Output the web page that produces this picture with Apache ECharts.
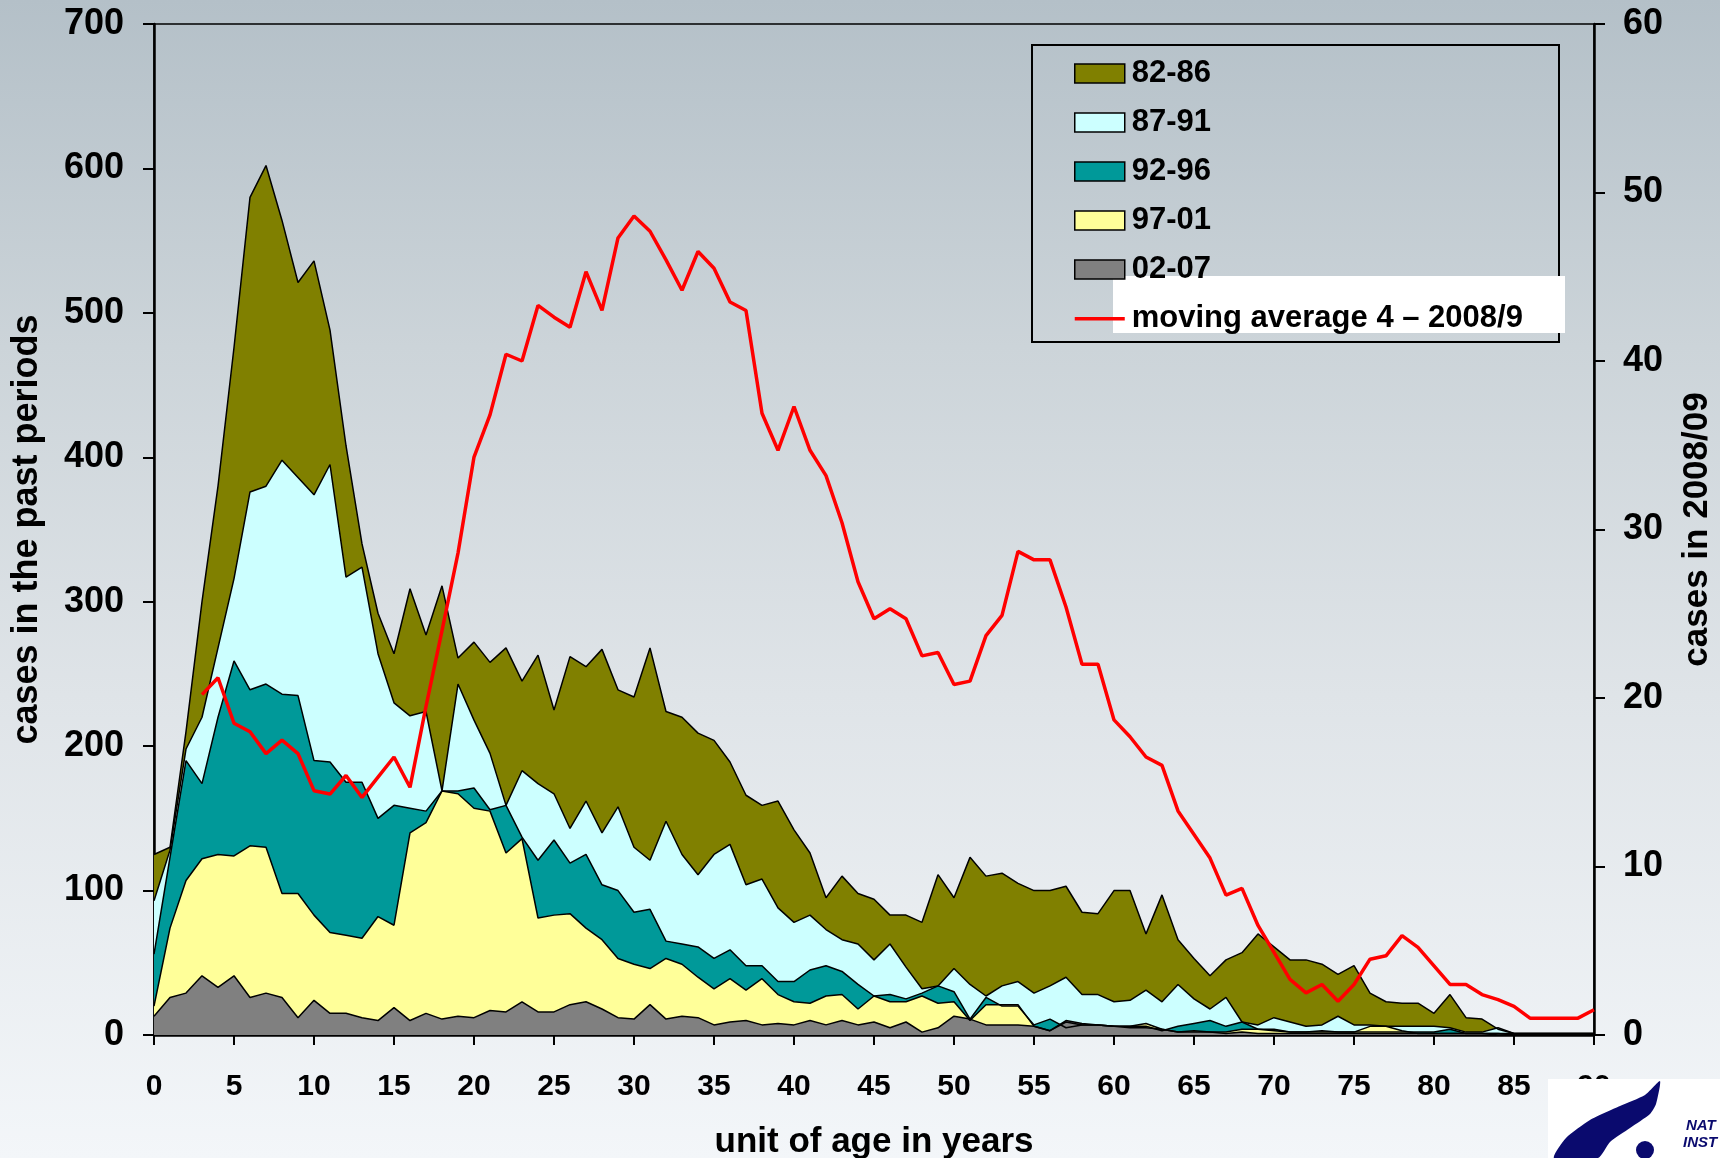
<!DOCTYPE html>
<html>
<head>
<meta charset="UTF-8">
<title>cases by age</title>
<script type="text/javascript" src="https://cdn.jsdelivr.net/npm/echarts@6/dist/echarts.min.js"></script>
<style>
  html, body { margin:0; padding:0; overflow:hidden; }
</style>
</head>
<body>
<div id="main" style="width:1720px;height:1158px"></div>
<script type="text/javascript">
// age in years (x axis categories)
var ages = [0,1,2,3,4,5,6,7,8,9,10,11,12,13,14,15,16,17,18,19,20,21,22,23,24,25,26,27,28,29,
  30,31,32,33,34,35,36,37,38,39,40,41,42,43,44,45,46,47,48,49,50,51,52,53,54,55,56,57,58,59,
  60,61,62,63,64,65,66,67,68,69,70,71,72,73,74,75,76,77,78,79,80,81,82,83,84,85,86,87,88,89,90];

// cases in the past periods (left axis)
var p8286 = [125,130,210,300,380,476,580,602,564,521, 536,488,408,340,292,264,309,277,311,261,
  272,258,268,245,263,225,262,255,267,239, 234,268,224,220,209,204,189,166,159,162,
  142,126,95,110,98,94,83,83,78,111, 95,123,110,112,105,100,100,103,85,84,
  100,100,70,97,66,53,41,52,57,70, 61,52,52,49,42,48,29,23,22,22, 15,28,12,11,4,1,1,1,1,1,1];
var p8791 = [93,128,198,220,268,316,376,380,398,386, 374,395,317,324,264,230,221,224,169,243,
  218,195,159,183,174,167,143,162,140,158, 130,121,148,125,111,125,132,104,108,88,
  78,83,73,66,63,52,63,47,32,34, 46,35,27,34,37,29,34,40,28,28,
  23,24,31,23,35,25,18,26,9,7, 12,9,6,7,13,7,7,6,6,6, 6,5,2,2,5,1,1,1,1,1,1];
var p9296 = [56,123,190,174,220,259,239,243,236,235, 190,189,175,175,150,159,157,155,169,169,
  171,156,159,137,121,135,119,125,104,100, 85,87,65,63,61,53,59,48,48,37,
  37,45,48,44,35,27,28,25,29,34, 30,11,26,20,20,7,11,5,7,7,
  6,6,6,3,6,8,10,6,9,4, 4,2,2,2,2,2,2,2,2,2, 2,4,1,1,1,0,0,0,0,0,0];
var p9701 = [20,74,107,122,125,124,131,130,98,98, 83,71,69,67,82,76,140,147,169,167,
  157,155,126,136,81,83,84,74,66,53, 49,46,53,49,40,32,39,31,39,28,
  23,22,27,28,18,27,23,23,27,22, 23,10,21,21,21,6,3,9,7,7,
  6,6,8,4,2,3,2,2,4,4, 3,2,2,3,2,2,6,6,3,1, 1,1,1,1,0,0,0,0,0,0,0];
var p0207 = [13,26,29,41,33,41,26,29,26,12, 24,15,15,12,10,19,10,15,11,13,
  12,17,16,23,16,16,21,23,18,12, 11,21,11,13,12,7,9,10,7,8,
  7,10,7,10,7,9,5,9,2,5, 13,11,7,7,7,6,3,10,8,7,
  6,5,5,4,2,2,2,1,2,1, 1,1,1,1,1,1,1,1,1,1, 1,1,1,1,1,1,1,1,1,1,1];

// moving average 4, cases in 2008/09 (right axis)
var ma2008 = [null,null,null,20.2,21.2,18.5,18.0,16.7,17.5,16.7,
  14.5,14.3,15.4,14.1,15.3,16.5,14.7,19.5,24.0,28.6,
  34.3,36.8,40.4,40.0,43.3,42.6,42.0,45.3,43.0,47.3,
  48.6,47.7,46.0,44.2,46.5,45.5,43.5,43.0,36.9,34.7,
  37.3,34.7,33.2,30.4,26.9,24.7,25.3,24.7,22.5,22.7,
  20.8,21.0,23.7,24.9,28.7,28.2,28.2,25.4,22.0,22.0,
  18.7,17.7,16.5,16.0,13.3,11.9,10.5,8.3,8.7,6.5,
  4.9,3.3,2.5,3.0,2.0,3.0,4.5,4.7,5.9,5.2,
  4.1,3.0,3.0,2.4,2.1,1.7,1.0,1.0,1.0,1.0,1.5];

var leftTicks = ['0','100','200','300','400','500','600','700'];
var periodNames = ['82-86','87-91','92-96','97-01','02-07'];
var periodColors = ['#808000','#ccffff','#009999','#ffff99','#808080'];
var maName = 'moving average 4 \u2013 2008/9';

var FONT = '"Liberation Sans", Arial, sans-serif';

function areaSeries(i, data) {
	return {
		name: periodNames[i],
		type: 'line',
		data: data,
		symbol: 'none',
		lineStyle: {color: '#000', width: 1.5},
		itemStyle: {color: periodColors[i]},
		areaStyle: {color: periodColors[i], opacity: 1},
		emphasis: {disabled: true},
		z: 2
	};
}

var legendData = periodNames.map(function(n, i) {
	return {name: n, icon: 'rect', itemStyle: {color: periodColors[i], borderColor: '#000', borderWidth: 1.5}};
});
// plain red dash, no marker (the two tiny moves keep the icon box 50x19)
legendData.push({name: maName, icon: 'path://M0,0 L0.01,0 M0,8 L50,8 L50,11.5 L0,11.5 Z M50,19 L49.99,19',
	itemStyle: {color: '#ff0000', borderWidth: 0}});

var myChart = echarts.init(document.getElementById('main'));

var option = {
	animation: false,
	backgroundColor: {
		type: 'linear', x: 0, y: 0, x2: 0, y2: 1,
		colorStops: [
			{offset: 0, color: '#b4c0c8'},
			{offset: 0.3, color: '#ccd4d9'},
			{offset: 0.6, color: '#dfe4e8'},
			{offset: 1, color: '#f3f6f9'}
		]
	},
	grid: {
		left: 154, right: 126, top: 24, bottom: 123,
		containLabel: false,
		outerBoundsMode: 'none',
		show: true, borderColor: '#000', borderWidth: 1.5, backgroundColor: 'transparent'
	},
	legend: {
		orient: 'vertical',
		left: 1074, top: 58,
		itemWidth: 50, itemHeight: 19, itemGap: 18,
		padding: 0,
		data: legendData,
		selectedMode: false,
		textStyle: {fontFamily: FONT, fontWeight: 'bold', fontSize: 31, lineHeight: 31, color: '#000', padding: [0, 0, 0, 2]}
	},
	xAxis: {
		type: 'category',
		data: ages,
		boundaryGap: false,
		axisLine: {lineStyle: {color: '#000', width: 2.5}},
		axisTick: {show: true, interval: 4, length: 10, lineStyle: {color: '#000', width: 2}},
		axisLabel: {interval: 4, fontFamily: FONT, fontWeight: 'bold', fontSize: 30, color: '#000', margin: 37},
		splitLine: {show: false},
		name: 'unit of age in years',
		nameLocation: 'middle',
		nameGap: 90,
		nameTextStyle: {fontFamily: FONT, fontWeight: 'bold', fontSize: 35, color: '#000'}
	},
	yAxis: [
		{
			type: 'value', position: 'left',
			min: 0, max: 700, interval: 100,
			axisLine: {show: true, lineStyle: {color: '#000', width: 2.5}},
			axisTick: {show: true, length: 11, lineStyle: {color: '#000', width: 2}},
			axisLabel: {fontFamily: FONT, fontWeight: 'bold', fontSize: 36, color: '#000', margin: 30,
				formatter: function(v) { return leftTicks[v / 100]; }},
			splitLine: {show: false},
			name: 'cases in the past periods',
			nameLocation: 'middle', nameRotate: 90, nameGap: 109,
			nameTextStyle: {fontFamily: FONT, fontWeight: 'bold', fontSize: 36, color: '#000'}
		},
		{
			type: 'value', position: 'right',
			min: 0, max: 60, interval: 10,
			axisLine: {show: true, lineStyle: {color: '#000', width: 2.5}},
			axisTick: {show: true, length: 11, lineStyle: {color: '#000', width: 2}},
			axisLabel: {fontFamily: FONT, fontWeight: 'bold', fontSize: 36, color: '#000', margin: 29},
			splitLine: {show: false},
			name: 'cases in 2008/09',
			nameLocation: 'middle', nameRotate: 90, nameGap: 86,
			nameTextStyle: {fontFamily: FONT, fontWeight: 'bold', fontSize: 35, color: '#000'}
		}
	],
	series: [
		areaSeries(0, p8286),
		areaSeries(1, p8791),
		areaSeries(2, p9296),
		areaSeries(3, p9701),
		areaSeries(4, p0207),
		{
			name: maName,
			type: 'line',
			yAxisIndex: 1,
			data: ma2008,
			symbol: 'none',
			lineStyle: {color: '#ff0000', width: 3.5},
			itemStyle: {color: '#ff0000'},
			emphasis: {disabled: true},
			z: 3
		}
	],
	graphic: [
		// legend frame and the white box behind the moving average label
		{type: 'rect', z: 1, shape: {x: 1032, y: 45, width: 527, height: 297}, style: {fill: 'none', stroke: '#000', lineWidth: 2}},
		{type: 'rect', z: 1, shape: {x: 1113, y: 276, width: 452, height: 57}, style: {fill: '#fff'}},
		// logo corner
		{type: 'rect', z: 100, shape: {x: 1548, y: 1079, width: 172, height: 79}, style: {fill: '#ffffff'}},
		{type: 'polygon', z: 101, shape: {points: [[1554,1158],[1566,1138],[1590,1120],[1620,1106],[1645,1095],[1660,1081],
			[1656,1104],[1650,1114],[1630,1128],[1610,1142],[1598,1158]], smooth: 0.2},
			style: {fill: '#0a0a6e'}},
		{type: 'circle', z: 101, shape: {cx: 1645, cy: 1150, r: 9}, style: {fill: '#0a0a6e'}},
		{type: 'text', z: 101, left: 1686, top: 1118, style: {text: 'NAT', fill: '#0a0a6e', font: 'italic bold 15px ' + FONT}},
		{type: 'text', z: 101, left: 1683, top: 1135, style: {text: 'INST', fill: '#0a0a6e', font: 'italic bold 15px ' + FONT}}
	]
};

myChart.setOption(option);
</script>
</body>
</html>
